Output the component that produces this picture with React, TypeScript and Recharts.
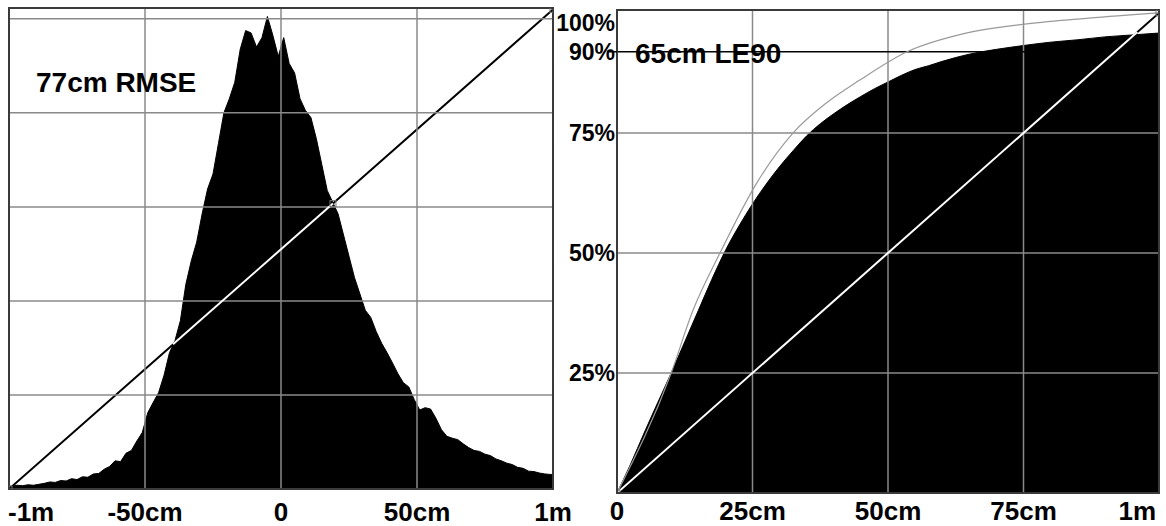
import React from 'react';
import {
  ComposedChart,
  Area,
  Line,
  XAxis,
  YAxis,
  CartesianGrid,
  ReferenceLine,
  ReferenceArea,
} from 'recharts';

// ---------- LEFT PANEL: error histogram, -1m .. 1m (in cm), 2 cm bins ----------
const HIST_BIN_START_CM = -100;
const HIST_BIN_WIDTH_CM = 2;
const histCounts = [
  0.6, 0.8, 0.7, 0.9, 0.8, 1.0, 1.2, 1.5, 1.4, 1.8,
  1.7, 2.2, 2.0, 2.6, 2.5, 3.2, 3.3, 4.2, 4.8, 6.0,
  5.8, 7.6, 8.2, 10.2, 12.0, 16.2, 18.4, 20.5, 24.2, 29.0,
  31.5, 35.8, 43.5, 48.5, 52.5, 58.5, 63.8, 67.0, 73.5, 80.0,
  83.0, 86.5, 93.5, 97.5, 97.0, 94.0, 96.0, 100.5, 96.5, 92.0,
  96.0, 90.5, 88.5, 83.0, 80.5, 79.0, 74.5, 69.0, 63.5, 61.0,
  58.5, 54.0, 49.5, 45.0, 41.5, 38.0, 36.5, 33.5, 31.0, 29.0,
  26.8, 24.5, 22.6, 21.7, 19.0, 16.8, 17.3, 17.0, 15.0, 12.6,
  11.2, 10.8, 10.5, 9.6, 8.8, 8.2, 8.0, 7.4, 7.1, 6.4,
  6.0, 5.5, 5.2, 4.6, 4.4, 3.8, 3.7, 3.4, 3.2, 3.1,
];
const LEFT_Y_MAX = 102.3;

// diagonal reference line (corner to corner) and the part of it lying inside the histogram
const leftDiagX = [-100, 19.1, 100];
const leftDiagY = [0, 60.7, 102];
const leftInsideX = [-39.7, 19.1];
const leftInsideY = [30.8, 60.7];

const leftXTicks = [-100, -50, 0, 50, 100];
const leftXLabels = ['-1m', '-50cm', '0', '50cm', '1m'];
const leftGridX = [-50, 0, 50];
const leftGridY = [20, 40, 60, 80, 100];

// ---------- RIGHT PANEL: cumulative error, 0 .. 1m (cm), percent ----------
const cdfX = [0, 2.5, 5, 7.5, 10, 12.5, 15, 17.5, 20, 22.5, 25, 27.5, 30, 32.5, 35, 37.5, 40, 42.5, 45, 47.5, 50, 52.5, 55, 57.5, 60, 65, 70, 75, 80, 85, 90, 95, 100];
const cdfY = [0, 6, 12.5, 18.8, 25, 31.5, 38, 44.5, 50.5, 55.6, 60.2, 64.3, 68, 71.3, 74.4, 76.9, 79, 80.9, 82.6, 84.2, 85.6, 87, 88.2, 89, 89.9, 91.4, 92.4, 93.2, 93.9, 94.4, 95, 95.4, 95.8];

const grayX = [0, 10, 14, 19, 25.8, 32.5, 38.7, 44.8, 53.5, 64.4, 75.6, 87, 100];
const grayY = [0, 25, 38, 50, 64.6, 75, 81.3, 86, 91.9, 95.8, 97.7, 98.9, 100];

const rightDiagX = [0, 100];
const rightDiagY = [0, 100];
const rightInsideX = [0, 96];
const rightInsideY = [0, 96];

const LE90_LINE = 91.9;
const rightXTicks = [0, 25, 50, 75, 100];
const rightXLabels = ['0', '25cm', '50cm', '75cm', '1m'];
const rightYTicks = [25, 50, 75, LE90_LINE, 100];
const rightYLabels = ['25%', '50%', '75%', '90%', '100%'];
const rightGrid = [25, 50, 75];
const RIGHT_Y_MAX = 100.6;

const leftTitle = '77cm RMSE';
const rightTitle = '65cm LE90';

// ---------- build tables ----------
const histData = [
  { x: HIST_BIN_START_CM, count: histCounts[0] },
  ...histCounts.map((c, i) => ({ x: HIST_BIN_START_CM + HIST_BIN_WIDTH_CM * (i + 0.5), count: c })),
  { x: HIST_BIN_START_CM + HIST_BIN_WIDTH_CM * histCounts.length, count: histCounts[histCounts.length - 1] },
];
const zip = (xs: number[], ys: number[]) => xs.map((x, i) => ({ x, y: ys[i] }));
const leftDiag = zip(leftDiagX, leftDiagY);
const leftInside = zip(leftInsideX, leftInsideY);
const cdfData = zip(cdfX, cdfY);
const grayData = zip(grayX, grayY);
const rightDiag = zip(rightDiagX, rightDiagY);
const rightInside = zip(rightInsideX, rightInsideY);

const FONT = '"Liberation Sans", Arial, Helvetica, sans-serif';
const GRID = '#8a8a8a';
const BORDER = '#3a3a3a';

const Marker = (props: any) => {
  const { cx, cy } = props;
  if (cx == null || cy == null) return null;
  return <rect x={cx - 3} y={cy - 3} width={6} height={6} fill="none" stroke="#777" strokeWidth={1} />;
};

const markerAt = (idxs: number[]) => (props: any) => {
  if (!idxs.includes(props.index)) return <g key={props.index} />;
  return <Marker key={props.index} {...props} />;
};

const makeXTick = (ticks: number[], labels: string[], side: 'left' | 'right', dy: number) => (props: any) => {
  const { x, y, payload } = props;
  const i = ticks.indexOf(payload.value);
  let anchor: 'start' | 'middle' | 'end' = 'middle';
  let dx = 0;
  if (side === 'left' && i === 0) { anchor = 'start'; dx = -1; }
  if (side === 'right' && i === ticks.length - 1) { anchor = 'end'; dx = -3; }
  return (
    <text x={x + dx} y={y + dy} textAnchor={anchor} fontSize={26} fontWeight={700} fontFamily={FONT} fill="#000">
      {labels[i]}
    </text>
  );
};

const RightYTick = (props: any) => {
  const { x, y, payload } = props;
  const i = rightYTicks.indexOf(payload.value);
  const isTop = i === rightYTicks.length - 1;
  const isMarker = payload.value === LE90_LINE;
  return (
    <g>
      {isMarker && <line x1={x - 10} x2={x} y1={y} y2={y} stroke="#000" strokeWidth={1.5} />}
      <text x={x - 2} y={y + (isTop ? 18 : 8)} textAnchor="end" fontSize={23} fontWeight={700} fontFamily={FONT} fill="#000">
        {rightYLabels[i]}
      </text>
    </g>
  );
};

function LeftPanel() {
  return (
    <div style={{ position: 'absolute', left: 0, top: 0 }}>
      <ComposedChart width={600} height={526} margin={{ top: 8, right: 47, bottom: 0, left: 9 }}>
        <XAxis
          type="number"
          dataKey="x"
          domain={[-100, 100]}
          ticks={leftXTicks}
          interval={0}
          allowDataOverflow
          axisLine={false}
          tickLine={false}
          tickSize={0}
          tickMargin={0}
          height={37}
          tick={makeXTick(leftXTicks, leftXLabels, 'left', 32)}
        />
        <YAxis type="number" domain={[0, LEFT_Y_MAX]} allowDataOverflow hide />
        <Line
          data={leftDiag}
          dataKey="y"
          type="linear"
          stroke="#000"
          strokeWidth={2}
          dot={markerAt([0, 2])}
          activeDot={false}
          isAnimationActive={false}
          zIndex={50}
        />
        <Area
          data={histData}
          dataKey="count"
          type="linear"
          stroke="#000"
          strokeWidth={1}
          fill="#000"
          fillOpacity={1}
          dot={false}
          activeDot={false}
          isAnimationActive={false}
          zIndex={100}
        />
        <CartesianGrid
          stroke={GRID}
          strokeWidth={1.5}
          horizontalValues={leftGridY}
          verticalValues={leftGridX}
          zIndex={150}
        />
        <Line
          data={leftInside}
          dataKey="y"
          type="linear"
          stroke="#fff"
          strokeWidth={2}
          dot={markerAt([1])}
          activeDot={false}
          isAnimationActive={false}
          zIndex={400}
        />
        <ReferenceArea
          x1={-100}
          x2={100}
          y1={0}
          y2={LEFT_Y_MAX}
          fill="none"
          stroke={BORDER}
          strokeWidth={2}
          zIndex={600}
        />
      </ComposedChart>
    </div>
  );
}

function RightPanel() {
  return (
    <div style={{ position: 'absolute', left: 540, top: 0 }}>
      <ComposedChart width={626} height={526} margin={{ top: 10, right: 7, bottom: 0, left: 7 }}>
        <XAxis
          type="number"
          dataKey="x"
          domain={[0, 100]}
          ticks={rightXTicks}
          interval={0}
          allowDataOverflow
          axisLine={false}
          tickLine={false}
          tickSize={0}
          tickMargin={0}
          height={33}
          tick={makeXTick(rightXTicks, rightXLabels, 'right', 27)}
        />
        <YAxis
          type="number"
          domain={[0, RIGHT_Y_MAX]}
          ticks={rightYTicks}
          interval={0}
          allowDataOverflow
          axisLine={false}
          tickLine={false}
          tickSize={0}
          tickMargin={0}
          width={70}
          tick={RightYTick}
        />
        <Line
          data={rightDiag}
          dataKey="y"
          type="linear"
          stroke="#000"
          strokeWidth={2}
          dot={markerAt([1])}
          activeDot={false}
          isAnimationActive={false}
          zIndex={50}
        />
        <Area
          data={cdfData}
          dataKey="y"
          type="monotone"
          stroke="#000"
          strokeWidth={1}
          fill="#000"
          fillOpacity={1}
          dot={false}
          activeDot={false}
          isAnimationActive={false}
          zIndex={100}
        />
        <CartesianGrid
          stroke={GRID}
          strokeWidth={1.5}
          horizontalValues={rightGrid}
          verticalValues={rightGrid}
          zIndex={150}
        />
        <ReferenceLine y={LE90_LINE} stroke="#000" strokeWidth={1.5} zIndex={160} />
        <Line
          data={rightInside}
          dataKey="y"
          type="linear"
          stroke="#fff"
          strokeWidth={2}
          dot={markerAt([0])}
          activeDot={false}
          isAnimationActive={false}
          zIndex={400}
        />
        <Line
          data={grayData}
          dataKey="y"
          type="monotone"
          stroke="#9a9a9a"
          strokeWidth={1.2}
          dot={false}
          activeDot={false}
          isAnimationActive={false}
          zIndex={410}
        />
        <ReferenceArea
          x1={0}
          x2={100}
          y1={0}
          y2={RIGHT_Y_MAX}
          fill="none"
          stroke={BORDER}
          strokeWidth={2}
          zIndex={600}
        />
      </ComposedChart>
    </div>
  );
}

export default function App() {
  return (
    <div style={{ position: 'absolute', left: 0, top: 0, width: 1166, height: 526, background: '#fff', overflow: 'hidden' }}>
      <LeftPanel />
      <RightPanel />
      <svg width={1166} height={526} style={{ position: 'absolute', left: 0, top: 0, pointerEvents: 'none' }}>
        <text x={36} y={92} fontSize={28} fontWeight={700} fontFamily={FONT} fill="#000">{leftTitle}</text>
        <text x={635} y={63} fontSize={28} fontWeight={700} fontFamily={FONT} fill="#000">{rightTitle}</text>
      </svg>
    </div>
  );
}
